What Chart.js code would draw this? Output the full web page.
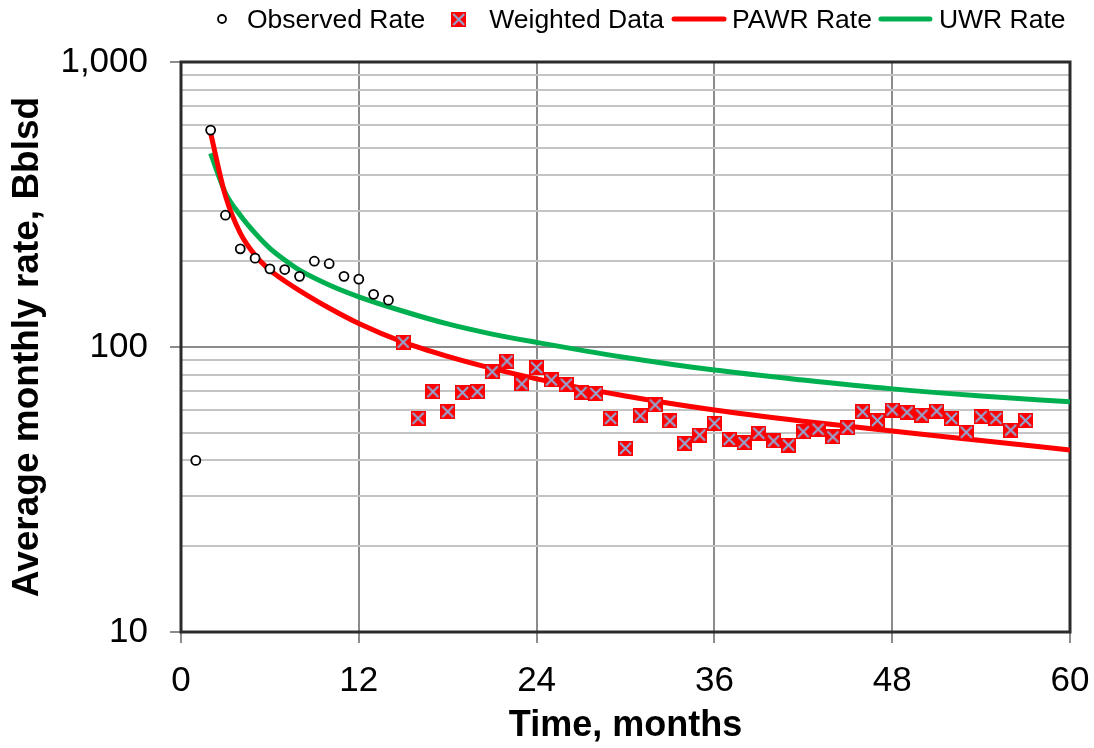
<!DOCTYPE html>
<html>
<head>
<meta charset="utf-8">
<title>Average monthly rate</title>
<script src="https://cdn.jsdelivr.net/npm/chart.js@4.4.1/dist/chart.umd.min.js"></script>
<style>
  body { margin: 0; background: #fff; }
  #wrap { width: 1094px; height: 748px; }
</style>
</head>
<body>
<div id="wrap"><canvas id="rateChart"></canvas></div>
<script>
const FONT = '"Liberation Sans", Arial, sans-serif';

// Observed monthly rates (months 1-14)
const obsMonths = [1, 2, 3, 4, 5, 6, 7, 8, 9, 10, 11, 12, 13, 14];
const obsRate = [40, 577, 290, 221, 205, 188, 187, 177, 200, 196, 177, 173, 153, 146];

// Rates used in the weighted fit (months 15-57)
const wtMonths = [15, 16, 17, 18, 19, 20, 21, 22, 23, 24, 25, 26, 27, 28, 29, 30,
                  31, 32, 33, 34, 35, 36, 37, 38, 39, 40, 41, 42, 43, 44, 45, 46,
                  47, 48, 49, 50, 51, 52, 53, 54, 55, 56, 57];
const wtRate = [104, 56.2, 69.7, 59.3, 69.2, 69.7, 81.9, 89.3, 74.2, 84.7, 76.6, 74.0,
                69.2, 68.7, 56.2, 44.1, 57.3, 62.6, 55.0, 45.9, 49.1, 54.0, 47.4, 46.2,
                49.8, 46.8, 45.3, 50.4, 51.5, 48.4, 52.1, 59.3, 55.2, 60.1, 59.0, 57.7,
                59.6, 56.2, 50.2, 57.0, 56.2, 51.1, 55.2];

// Fitted rate curves
const fitMonths = [2, 3, 4, 5, 6, 7, 8, 10, 12, 15, 18, 21, 24, 30, 36, 42, 48, 54, 60];
const pawrRate = [563, 339, 251, 210, 186, 170.5, 157.8, 137, 120.9, 104, 92.7, 84.1, 77.3, 67.3, 60.1, 54.9, 50.7, 47.0, 43.5];
const uwrRate = [478, 347, 290, 251, 222, 202, 186, 165, 150, 133.5, 120.5, 111, 103.8, 91.9, 83, 76.6, 71.3, 67.3, 64.2];

// Axis ticks
const xTicks = [0, 12, 24, 36, 48, 60];
const yTicks = [10, 20, 30, 40, 50, 60, 70, 80, 90,
                100, 200, 300, 400, 500, 600, 700, 800, 900, 1000];
const yLabelled = [10, 100, 1000];

function toPoints(xs, ys) {
    return xs.map((x, i) => ({ x: x, y: ys[i] }));
}

// red square with a blue cross, used for the weighted data points
function crossBox(size) {
    const c = document.createElement('canvas');
    c.width = size;
    c.height = size;
    const g = c.getContext('2d');
    g.fillStyle = '#ff0000';
    g.fillRect(0, 0, size, size);
    g.strokeStyle = '#8fa9d6';
    g.lineWidth = 2;
    g.beginPath();
    g.moveTo(2, 2); g.lineTo(size - 2, size - 2);
    g.moveTo(size - 2, 2); g.lineTo(2, size - 2);
    g.stroke();
    return c;
}
const boxMarker = crossBox(15);

// frame around the plot area
const plotFrame = {
    id: 'plotFrame',
    beforeDatasetsDraw(chart) {
        const { ctx, chartArea: a } = chart;
        ctx.save();
        ctx.strokeStyle = '#2b2b2b';
        ctx.lineWidth = 3;
        ctx.strokeRect(a.left, a.top, a.right - a.left, a.bottom - a.top);
        ctx.restore();
    }
};

// one-row legend across the top
const legendRow = {
    id: 'legendRow',
    afterDraw(chart) {
        const ctx = chart.ctx;
        const y = 19;
        const items = [
            { ds: 0, pre: 0, w: 12, post: 19 },
            { ds: 1, pre: 26, w: 15, post: 23 },
            { ds: 2, pre: 8, w: 54, post: 6 },
            { ds: 3, pre: 7, w: 53, post: 7 }
        ];
        ctx.save();
        ctx.font = '26.5px ' + FONT;
        ctx.textBaseline = 'alphabetic';
        let x = 216;
        items.forEach(it => {
            const ds = chart.data.datasets[it.ds];
            x += it.pre;
            if (it.ds === 0) {
                ctx.beginPath();
                ctx.arc(x + it.w / 2, y, 4, 0, Math.PI * 2);
                ctx.fillStyle = '#fff';
                ctx.fill();
                ctx.lineWidth = 1.8;
                ctx.strokeStyle = '#000';
                ctx.stroke();
            } else if (it.ds === 1) {
                ctx.drawImage(boxMarker, x, y - 7);
            } else {
                ctx.beginPath();
                ctx.moveTo(x + 2, y);
                ctx.lineTo(x + it.w - 2, y);
                ctx.lineWidth = 5;
                ctx.lineCap = 'round';
                ctx.strokeStyle = ds.borderColor;
                ctx.stroke();
            }
            x += it.w + it.post;
            ctx.fillStyle = '#000';
            ctx.fillText(ds.label, x, 28);
            x += ctx.measureText(ds.label).width;
        });
        ctx.restore();
    }
};

const ctx = document.getElementById('rateChart').getContext('2d');

new Chart(ctx, {
    type: 'scatter',
    data: {
        datasets: [
            {
                label: 'Observed Rate',
                data: toPoints(obsMonths, obsRate),
                pointStyle: 'circle',
                pointRadius: 4.5,
                pointBorderWidth: 1.8,
                pointBorderColor: '#000',
                pointBackgroundColor: '#fff',
                showLine: false
            },
            {
                label: 'Weighted Data',
                data: toPoints(wtMonths, wtRate),
                pointStyle: boxMarker,
                pointRadius: 7.5,
                showLine: false
            },
            {
                label: 'PAWR Rate',
                data: toPoints(fitMonths, pawrRate),
                showLine: true,
                borderColor: '#ff0000',
                borderWidth: 5,
                pointRadius: 0,
                cubicInterpolationMode: 'monotone'
            },
            {
                label: 'UWR Rate',
                data: toPoints(fitMonths, uwrRate),
                showLine: true,
                borderColor: '#00b050',
                borderWidth: 5,
                pointRadius: 0,
                cubicInterpolationMode: 'monotone'
            }
        ]
    },
    options: {
        responsive: true,
        maintainAspectRatio: false,
        animation: false,
        layout: { padding: { top: 62, right: 24, left: 0, bottom: 0 } },
        plugins: {
            legend: { display: false },
            tooltip: { enabled: false }
        },
        scales: {
            x: {
                type: 'linear',
                min: 0,
                max: 60,
                afterFit: s => {
                    s.height = 116;
                    s.paddingLeft = 0;
                    s.paddingRight = 0;
                },
                afterBuildTicks: s => { s.ticks = xTicks.map(v => ({ value: v })); },
                ticks: {
                    autoSkip: false,
                    padding: 17,
                    color: '#000',
                    font: { family: FONT, size: 35 }
                },
                grid: {
                    color: '#8c8c8c',
                    lineWidth: 2,
                    tickLength: 11,
                    tickColor: '#8c8c8c'
                },
                border: { display: false },
                title: {
                    display: true,
                    text: 'Time, months',
                    color: '#000',
                    padding: { top: 0, bottom: 0 },
                    font: { family: FONT, size: 36, weight: 'bold' }
                }
            },
            y: {
                type: 'logarithmic',
                min: 10,
                max: 1000,
                afterFit: s => { s.width = 181; },
                afterBuildTicks: s => { s.ticks = yTicks.map(v => ({ value: v, major: yLabelled.includes(v) })); },
                ticks: {
                    autoSkip: false,
                    padding: 22,
                    color: '#000',
                    font: { family: FONT, size: 35 },
                    callback: v => yLabelled.includes(v) ? v.toLocaleString('en-US') : ''
                },
                grid: {
                    color: c => yLabelled.includes(c.tick.value) ? '#8c8c8c' : '#c4c4c4',
                    lineWidth: 2,
                    tickLength: 11,
                    tickColor: c => yLabelled.includes(c.tick.value) ? '#8c8c8c' : 'rgba(0,0,0,0)'
                },
                border: { display: false },
                title: {
                    display: true,
                    text: 'Average monthly rate, Bblsd',
                    color: '#000',
                    padding: { top: 6, bottom: 0 },
                    font: { family: FONT, size: 37, weight: 'bold' }
                }
            }
        }
    },
    plugins: [plotFrame, legendRow]
});
</script>
</body>
</html>
